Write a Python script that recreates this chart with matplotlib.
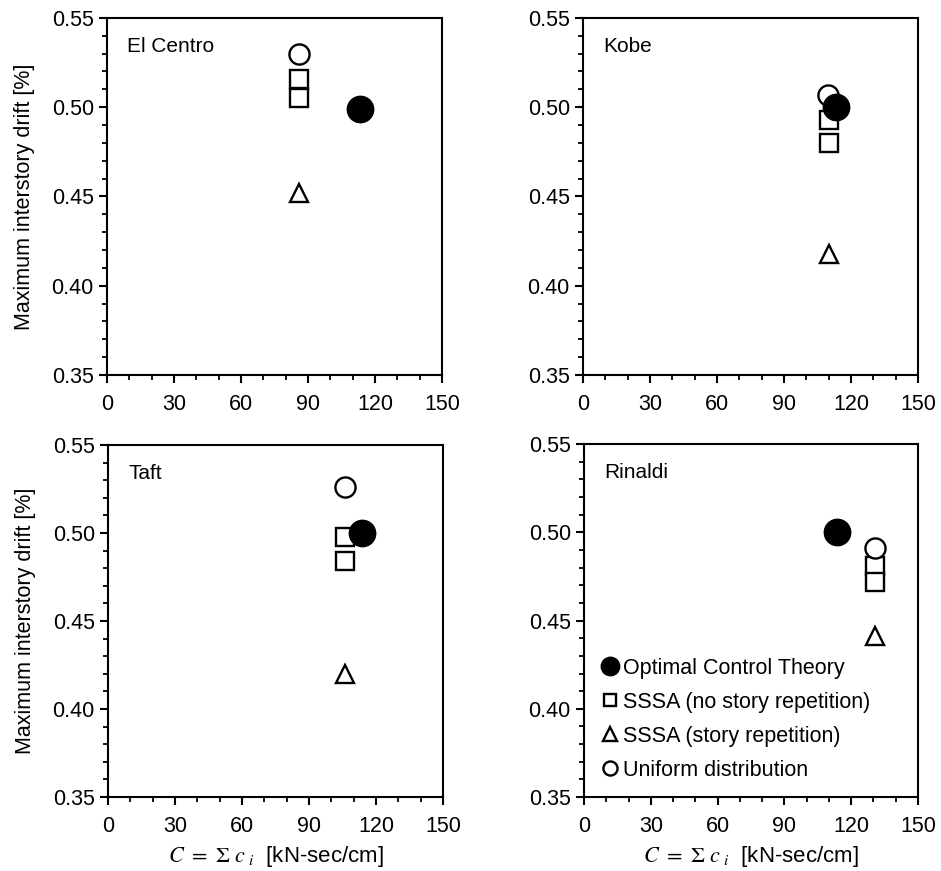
import numpy as np
import matplotlib
matplotlib.use("Agg")
import matplotlib.pyplot as plt
from matplotlib.ticker import MultipleLocator

plt.rcParams["font.family"] = ["Liberation Sans", "DejaVu Sans"]
plt.rcParams["mathtext.fontset"] = "stix"

# Data
records = ["El Centro", "Kobe", "Taft", "Rinaldi"]
oct_x = [113.3, 113.2, 113.6, 113.5]
oct_y = [0.499, 0.500, 0.500, 0.500]
sssa_x = [86.0, 110.0, 106.0, 130.7]
sssa_y = [[0.516, 0.505], [0.493, 0.480], [0.498, 0.484], [0.481, 0.472]]
rep_y = [0.452, 0.418, 0.420, 0.441]
uni_x = [86.0, 109.7, 106.0, 130.7]
uni_y = [0.530, 0.507, 0.526, 0.491]

fig = plt.figure(figsize=(9.41, 8.71), dpi=100)
rects = [
    (0.1137, 0.5695, 0.356, 0.410),
    (0.6196, 0.5695, 0.356, 0.410),
    (0.1148, 0.0850, 0.356, 0.4040),
    (0.6206, 0.0850, 0.355, 0.4050),
]

for i, name in enumerate(records):
    ax = fig.add_axes(rects[i])
    ax.plot(sssa_x[i] * np.ones(2), sssa_y[i], ls="none", marker="s", ms=12.5,
            mfc="white", mec="black", mew=1.7, label="SSSA (no story repetition)")
    ax.plot(sssa_x[i], rep_y[i], ls="none", marker="^", ms=13.5,
            mfc="white", mec="black", mew=1.7, label="SSSA (story repetition)")
    ax.plot(uni_x[i], uni_y[i], ls="none", marker="o", ms=14.5,
            mfc="white", mec="black", mew=1.7, label="Uniform distribution")
    ax.plot(oct_x[i], oct_y[i], ls="none", marker="o", ms=19,
            mfc="black", mec="black", label="Optimal Control Theory")

    ax.set_xlim(0, 150)
    ax.set_ylim(0.35, 0.55)
    ax.xaxis.set_major_locator(MultipleLocator(30))
    ax.xaxis.set_minor_locator(MultipleLocator(10))
    ax.yaxis.set_major_locator(MultipleLocator(0.05))
    ax.yaxis.set_minor_locator(MultipleLocator(0.01))
    ax.yaxis.set_major_formatter(plt.FormatStrFormatter("%.2f"))
    ax.tick_params(which="major", direction="out", length=5.5, width=1.5,
                   labelsize=15.5, pad=4)
    ax.tick_params(axis="x", which="major", pad=8)
    ax.tick_params(which="minor", direction="out", length=3.5, width=1.3)
    ax.tick_params(axis="x", which="both", top=False)
    ax.tick_params(axis="y", which="both", right=False)
    for sp in ax.spines.values():
        sp.set_linewidth(1.5)

    ax.text(0.06, 0.92, name, transform=ax.transAxes, fontsize=15,
            va="center", ha="left")

    if i % 2 == 0:
        ax.set_ylabel("Maximum interstory drift [%]", fontsize=15.5, labelpad=12)
    if i >= 2:
        ax.set_xlabel(r"$C\ =\ \Sigma\ c_{\ i}$  [kN-sec/cm]", fontsize=16,
                      labelpad=5)

    if i == 3:
        h, l = ax.get_legend_handles_labels()
        order = [3, 0, 1, 2]
        ax.legend([h[k] for k in order], [l[k] for k in order],
                  loc="lower left", bbox_to_anchor=(0.02, 0.01),
                  frameon=False, fontsize=15.5, markerscale=0.7,
                  handlelength=0.6, handletextpad=0.3, labelspacing=0.6,
                  borderaxespad=0.2)

fig.savefig("out.png", dpi=100)
